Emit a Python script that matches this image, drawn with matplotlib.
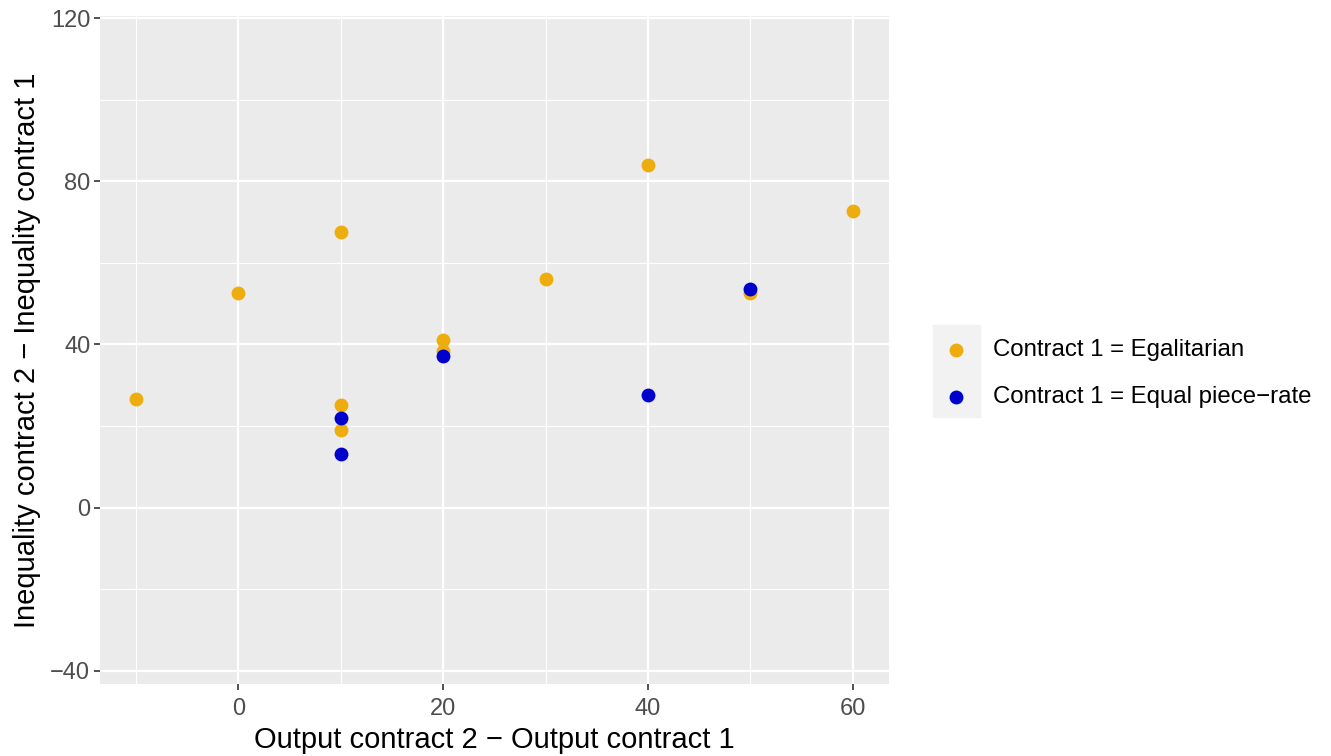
import matplotlib.pyplot as plt
from matplotlib.patches import Rectangle
from matplotlib.ticker import MultipleLocator

plt.rcParams['font.family'] = ['Liberation Sans', 'DejaVu Sans']

# data
egal_x = [-10, 0, 10, 10, 10, 20, 20, 30, 40, 50, 60]
egal_y = [26.7, 52.7, 67.6, 25.2, 19.1, 41.2, 38.3, 56.1, 84.1, 52.6, 72.6]
piece_x = [10, 10, 20, 40, 50]
piece_y = [22.1, 13.2, 37.1, 27.6, 53.7]

labels = ['Contract 1 = Egalitarian', 'Contract 1 = Equal piece\u2212rate']
colors = ['#EEAD0E', '#0000CD']

W, H = 1331, 756
fig = plt.figure(figsize=(W / 100, H / 100), dpi=100)
ax = fig.add_axes([100 / W, (H - 684.3) / H, (888.7 - 100) / W, (684.3 - 16.5) / H])

ax.set_facecolor('#EBEBEB')
for s in ax.spines.values():
    s.set_visible(False)

ax.set_xlim(-13.5, 63.5)
ax.set_ylim(-43.3, 120.4)
ax.xaxis.set_major_locator(MultipleLocator(20))
ax.xaxis.set_minor_locator(MultipleLocator(10))
ax.yaxis.set_major_locator(MultipleLocator(40))
ax.yaxis.set_minor_locator(MultipleLocator(20))
ax.grid(which='major', color='white', linewidth=1.6)
ax.grid(which='minor', color='white', linewidth=0.8)
ax.set_axisbelow(True)
ax.tick_params(which='major', length=4, width=1.2, color='#333333',
               labelcolor='#4D4D4D', labelsize=17, pad=3)
ax.tick_params(axis='x', which='major', pad=6)
ax.tick_params(which='minor', length=0)

ax.scatter(egal_x, egal_y, s=100, color=colors[0], label=labels[0], zorder=3, linewidths=0)
ax.scatter(piece_x, piece_y, s=100, color=colors[1], label=labels[1], zorder=3, linewidths=0)

ax.set_xlabel('Output contract 2 \u2212 Output contract 1', fontsize=21, labelpad=4)
ax.set_ylabel('Inequality contract 2 \u2212 Inequality contract 1', fontsize=21, labelpad=7)

# legend key background
fig.patches.append(Rectangle((933 / W, (H - 417) / H), 47 / W, 92 / H,
                             transform=fig.transFigure, color='#F2F2F2', zorder=0))
leg = fig.legend(loc='center left', bbox_to_anchor=(944 / W, (H - 373.5) / H),
                 frameon=False, fontsize=17.3, handletextpad=1.04, labelspacing=1.05,
                 borderpad=0, borderaxespad=0, handlelength=1.0)

fig.savefig('out.png', dpi=100)
